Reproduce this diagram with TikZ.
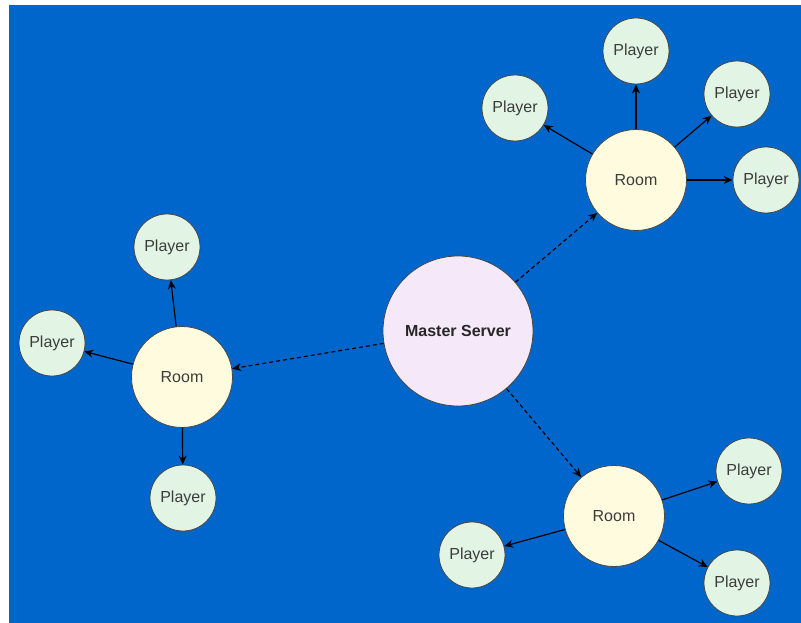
\documentclass[tikz,border=0pt]{standalone}
\usepackage{fontspec}
\setmainfont{Liberation Sans}
\usepackage{tikz}
\usetikzlibrary{arrows.meta, positioning}
\definecolor{cBack}{RGB}{0,102,204}
\definecolor{cRoom}{RGB}{255,251,222}
\definecolor{cPlayer}{RGB}{226,245,228}
\definecolor{cMaster}{RGB}{245,233,249}
\definecolor{cText}{RGB}{60,60,60}
\definecolor{cRim}{RGB}{70,72,70}
\tikzset{
	disc/.style     ={circle, draw=cRim, line width=0.8pt, inner sep=0pt, text=cText, font=\fontsize{16pt}{18pt}\selectfont},
	server/.style   ={disc, minimum size=150pt, fill=cMaster, text=black!85, font=\fontsize{16pt}{18pt}\selectfont\bfseries},
	room/.style     ={disc, minimum size=101pt, fill=cRoom},
	player/.style   ={disc, minimum size=66pt, fill=cPlayer},
	sendarrow/.style={-{Stealth[length=9pt, width=8pt]}, line width=1.2pt, black},
	syncarrow/.style={sendarrow, dash pattern=on 4pt off 3pt},
}

\begin{document}
\begin{tikzpicture}[x=1pt, y=-1pt]
	% background
	\useasboundingbox (0,0) rectangle (801,623);
	\fill[cBack] (9,5) rectangle (801,623);
	% master
	\node[server] (master) at (458,331) {Master Server};
	% rooms
	\node[room] (roomL) at (182,377) {Room};
	\node[room] (roomT) at (636,180) {Room};
	\node[room] (roomB) at (614,516) {Room};
	% players of left room
	\node[player] (pL1) at (167,247) {Player};
	\node[player] (pL2) at (52,343)  {Player};
	\node[player] (pL3) at (183,498) {Player};
	% players of top room
	\node[player] (pT1) at (515,108) {Player};
	\node[player] (pT2) at (636,51)  {Player};
	\node[player] (pT3) at (737,94)  {Player};
	\node[player] (pT4) at (766,180) {Player};
	% players of bottom room
	\node[player] (pB1) at (749,471) {Player};
	\node[player] (pB2) at (472,555) {Player};
	\node[player] (pB3) at (737,583) {Player};
	% master to rooms
	\draw[syncarrow] (master) -- (roomL);
	\draw[syncarrow] (master) -- (roomT);
	\draw[syncarrow] (master) -- (roomB);
	% rooms to players
	\foreach \r/\p in {roomL/pL1, roomL/pL2, roomL/pL3,
		roomT/pT1, roomT/pT2, roomT/pT3, roomT/pT4,
		roomB/pB1, roomB/pB2, roomB/pB3}
		\draw[sendarrow] (\r) -- (\p);
\end{tikzpicture}
\end{document}
